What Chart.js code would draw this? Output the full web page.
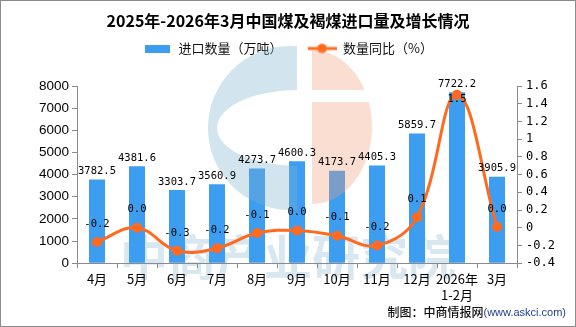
<!DOCTYPE html>
<html>
<head>
<meta charset="utf-8">
<script src="https://cdn.jsdelivr.net/npm/chart.js@4.4.0/dist/chart.umd.min.js"></script>
<style>
  html, body { margin: 0; padding: 0; background: #fff; }
  #wrap { width: 576px; height: 327px; }
</style>
</head>
<body>
<div id="wrap"><canvas id="chart" width="576" height="327"></canvas></div>
<script>
// chart data
const categories = ['4月', '5月', '6月', '7月', '8月', '9月', '10月', '11月', '12月', ['2026年', '1-2月'], '3月'];
const importVolume = [3782.5, 4381.6, 3303.7, 3560.9, 4273.7, 4600.3, 4173.7, 4405.3, 5859.7, 7722.2, 3905.9];
const yoyGrowth = [-0.16, 0.0, -0.26, -0.23, -0.06, -0.03, -0.09, -0.2, 0.12, 1.5, 0.01];
const seriesNames = ['进口数量（万吨）', '数量同比（%）'];
const titleText = '2025年-2026年3月中国煤及褐煤进口量及增长情况';

const BAR_COLOR = '#3d9df0';
const LINE_COLOR = '#ff6a1f';
const AXIS_COLOR = '#8a8a8a';
const CJK = '"Noto Sans CJK SC", "Noto Sans", sans-serif';
const MONO = '"DejaVu Sans Mono", "Liberation Mono", monospace';

function legendRect() {
    const c = document.createElement('canvas');
    c.width = 25; c.height = 8;
    const g = c.getContext('2d');
    g.fillStyle = BAR_COLOR;
    g.fillRect(0, 0, 25, 8);
    return c;
}

function legendLine() {
    const c = document.createElement('canvas');
    c.width = 29; c.height = 12;
    const g = c.getContext('2d');
    g.strokeStyle = LINE_COLOR;
    g.fillStyle = LINE_COLOR;
    g.lineWidth = 3;
    g.beginPath(); g.moveTo(0, 6); g.lineTo(29, 6); g.stroke();
    g.beginPath(); g.arc(14.5, 6, 4.8, 0, Math.PI * 2); g.fill();
    return c;
}
const legendIcons = [legendRect(), legendLine()];

function pct(v) {
    const s = v.toFixed(1);
    return s === '-0.0' ? '0.0' : s;
}

const decorations = {
    id: 'decorations',
    beforeDraw(chart) {
        // watermark text behind everything
        const ctx = chart.ctx;
        ctx.save();
        ctx.fillStyle = '#d9e7f1';
        ctx.font = 'bold 48px ' + CJK;
        ctx.textAlign = 'center';
        ctx.textBaseline = 'middle';
        ctx.fillText('中商产业研究院', 288, 257);
        ctx.restore();
    },
    afterDatasetsDraw(chart) {
        const ctx = chart.ctx;
        // logo: blue C and peach half disc
        ctx.save();
        ctx.beginPath();
        ctx.rect(180, 30, 117, 200);
        ctx.clip();
        ctx.beginPath();
        ctx.arc(290, 128, 82, 0, Math.PI * 2);
        ctx.ellipse(297, 128, 80, 38, 0, 0, Math.PI * 2);
        ctx.fillStyle = 'rgba(126,178,206,0.35)';
        ctx.fill('evenodd');
        ctx.restore();

        ctx.save();
        ctx.beginPath();
        ctx.rect(312, 40, 80, 50);
        ctx.rect(312, 102, 80, 110);
        ctx.clip();
        ctx.beginPath();
        ctx.ellipse(312, 127, 60, 77, 0, -Math.PI / 2, Math.PI / 2);
        ctx.closePath();
        ctx.fillStyle = 'rgba(241,161,126,0.35)';
        ctx.fill();
        ctx.restore();

        // value labels
        ctx.save();
        ctx.fillStyle = '#000';
        ctx.font = '10.5px ' + MONO;
        ctx.textAlign = 'center';
        ctx.textBaseline = 'middle';
        chart.getDatasetMeta(0).data.forEach((bar, i) => {
            ctx.fillText(importVolume[i].toFixed(1), bar.x, bar.y - 8);
        });
        const top = chart.chartArea.top;
        chart.getDatasetMeta(1).data.forEach((pt, i) => {
            let y = pt.y - 18;
            if (y < top + 10) y = pt.y + 4;
            ctx.fillText(pct(yoyGrowth[i]), pt.x, y);
        });
        ctx.restore();
    },
    afterDraw(chart) {
        const ctx = chart.ctx;
        ctx.save();
        ctx.textBaseline = 'middle';
        ctx.textAlign = 'right';
        ctx.font = '11px "Liberation Sans", Arial, sans-serif';
        ctx.fillStyle = '#1f3f8f';
        const url = '(www.askci.com)';
        ctx.fillText(url, 566, 313);
        const w = ctx.measureText(url).width;
        ctx.font = '500 12px ' + CJK;
        ctx.fillStyle = '#111';
        ctx.fillText('制图：中商情报网', 566 - w, 312);
        // frame
        ctx.strokeStyle = '#8c8c8c';
        ctx.lineWidth = 1;
        ctx.strokeRect(0.5, 0.5, 575, 326);
        ctx.restore();
    }
};

new Chart(document.getElementById('chart'), {
    data: {
        labels: categories,
        datasets: [
            {
                type: 'bar',
                label: seriesNames[0],
                data: importVolume,
                backgroundColor: BAR_COLOR,
                categoryPercentage: 0.8,
                barPercentage: 0.5,
                xAxisID: 'x',
                yAxisID: 'y',
                order: 2
            },
            {
                type: 'line',
                label: seriesNames[1],
                data: yoyGrowth,
                borderColor: LINE_COLOR,
                backgroundColor: LINE_COLOR,
                borderWidth: 3,
                tension: 0.4,
                pointRadius: 5,
                pointBackgroundColor: LINE_COLOR,
                pointBorderWidth: 0,
                xAxisID: 'x',
                yAxisID: 'y1',
                order: 1
            }
        ]
    },
    options: {
        responsive: false,
        animation: false,
        devicePixelRatio: 1,
        layout: { padding: { left: 0, right: 0, top: 0, bottom: 21 } },
        plugins: {
            tooltip: { enabled: false },
            title: {
                display: true,
                text: titleText,
                color: '#000',
                font: { size: 16, weight: 'bold', family: CJK },
                padding: { top: 11, bottom: -13.2 }
            },
            legend: {
                display: true,
                position: 'top',
                labels: {
                    usePointStyle: true,
                    pointStyleWidth: 29,
                    boxHeight: 12,
                    padding: 25,
                    color: '#111',
                    font: { size: 13, family: CJK },
                    sort: (a, b) => a.datasetIndex - b.datasetIndex,
                    generateLabels(chart) {
                        const items = Chart.defaults.plugins.legend.labels.generateLabels(chart);
                        items.forEach(item => {
                            item.pointStyle = legendIcons[item.datasetIndex];
                            item.lineWidth = 0;
                        });
                        return items;
                    }
                }
            }
        },
        scales: {
            x: {
                position: 'bottom',
                offset: true,
                grid: { display: true, drawOnChartArea: false, tickLength: 5, color: AXIS_COLOR, offset: true },
                border: { color: AXIS_COLOR },
                ticks: {
                    color: '#000',
                    maxRotation: 0,
                    autoSkip: false,
                    padding: 2,
                    font: { size: 13, family: CJK, lineHeight: 1.3 }
                }
            },
            // empty band between the legend and the plot
            gap: {
                type: 'category',
                position: 'top',
                display: true,
                grid: { display: false },
                border: { display: false },
                ticks: { display: false },
                afterFit: s => { s.height = 21; }
            },
            y: {
                position: 'left',
                min: 0,
                max: 8000,
                afterFit: s => { s.width = 77; },
                grid: { drawOnChartArea: false, tickLength: 5, color: AXIS_COLOR },
                border: { color: AXIS_COLOR },
                ticks: {
                    stepSize: 1000,
                    padding: 3,
                    color: '#000',
                    font: { size: 13.5, family: '"Liberation Sans", Arial, sans-serif' },
                    callback: v => String(v)
                }
            },
            y1: {
                position: 'right',
                min: -0.4,
                max: 1.6,
                afterFit: s => { s.width = 59; },
                grid: { drawOnChartArea: false, tickLength: 5, color: AXIS_COLOR },
                border: { color: AXIS_COLOR },
                ticks: {
                    stepSize: 0.2,
                    padding: 4,
                    color: '#000',
                    font: { size: 12, family: MONO },
                    callback: v => {
                        const r = Math.round(v * 10) / 10;
                        return r === 0 ? '0' : String(r);
                    }
                }
            }
        }
    },
    plugins: [decorations]
});
</script>
</body>
</html>
